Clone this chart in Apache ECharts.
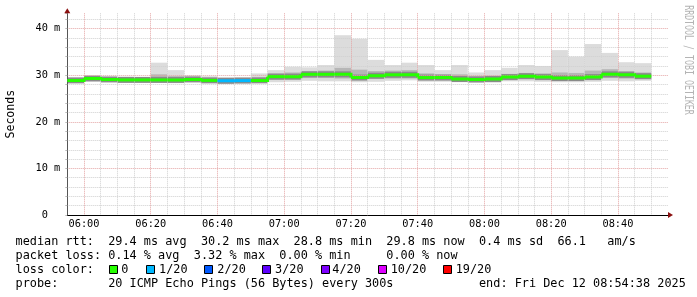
<!DOCTYPE html>
<html><head><meta charset="utf-8">
<script src="https://cdn.jsdelivr.net/npm/echarts@6/dist/echarts.min.js"></script>
<style>html,body{margin:0;padding:0;background:#fff}#c{width:697px;height:297px}</style>
</head><body><div id="c"></div>
<script>
// ---- data ----
const intervalStarts = ['05:55','06:00','06:05','06:10','06:15','06:20','06:25','06:30','06:35','06:40','06:45','06:50',
  '06:55','07:00','07:05','07:10','07:15','07:20','07:25','07:30','07:35','07:40','07:45','07:50',
  '07:55','08:00','08:05','08:10','08:15','08:20','08:25','08:30','08:35','08:40','08:45'];
const medians = [28.9,29.3,29.1,29.0,29.0,29.0,29.0,29.1,28.9,28.8,28.85,28.9,
  29.7,29.7,30.2,30.2,30.2,29.5,29.9,30.1,30.1,29.5,29.5,29.2,
  29.1,29.2,29.6,29.8,29.6,29.4,29.4,29.6,30.2,30.1,29.8];
const maxs = [29.4,29.7,29.5,29.7,29.6,32.7,31.1,30.0,29.8,29.6,29.6,30.4,
  31.1,31.8,31.7,32.2,38.6,37.8,33.3,32.2,32.7,32.2,31.1,32.2,
  30.6,31.1,31.6,32.2,32.0,35.4,34.0,36.7,34.8,32.8,32.6];
const highs = [29.15,29.5,29.3,29.35,29.3,30.2,29.8,29.5,29.3,29.15,29.15,29.5,
  30.4,30.6,30.9,31.0,31.6,31.2,30.9,31.0,31.1,30.4,30.2,30.2,
  29.8,29.9,30.3,30.5,30.4,30.6,30.5,31.0,31.3,30.9,30.6];
const lows = [28.75,29.1,28.9,28.85,28.85,28.7,28.6,28.9,28.7,28.65,28.65,28.7,
  29.0,29.1,29.4,29.4,29.3,29.0,29.2,29.3,29.3,29.0,29.0,28.8,
  28.7,28.8,29.1,29.2,29.1,28.9,28.9,29.0,29.4,29.3,29.2];
const mins = [28.6,28.9,28.7,28.7,28.7,28.4,28.3,28.7,28.6,28.5,28.5,28.6,
  28.5,28.6,28.8,28.7,28.7,28.5,28.6,28.8,28.9,28.6,28.6,28.5,
  28.4,28.4,28.7,28.7,28.6,28.5,28.5,28.6,28.8,28.7,28.8];
const lossCounts = [0,0,0,0,0,0,0,0,0,1,1,0, 0,0,0,0,0,0,0,0,0,0,0,0, 0,0,0,0,0,0,0,0,0,0,0];
const xTickLabels = ['06:00','06:20','06:40','07:00','07:20','07:40','08:00','08:20','08:40'];
const yTickValues = [0,10,20,30,40];
const lossLegendLabels = ['0','1/20','2/20','3/20','4/20','10/20','19/20'];
const lossLegendCounts = [0,1,2,3,4,10,19];

// ---- styles / layout ----
const lossColors = {0:'#26ff00',1:'#00b8ff',2:'#0059ff',3:'#5e00ff',4:'#7e00ff',10:'#dd00ff',19:'#ff0000'};
const MONO = '"DejaVu Sans Mono", monospace';
const STEP = 5;
const X_MIN = 355, X_MAX = 535, Y_MAX = 43.3;
const minorGrid = '#cfcfcf', majorGrid = '#e4a4a4';

function toMin(s){ const p = s.split(':').map(Number); return p[0]*60 + p[1]; }
function fmt(v){ const h = Math.floor(v/60), m = v%60; return String(h).padStart(2,'0')+':'+String(m).padStart(2,'0'); }

const smokeData = intervalStarts.map((t,i)=>[toMin(t), toMin(t)+STEP, mins[i], lows[i], highs[i], maxs[i], medians[i]]);
const medData = intervalStarts.map((t,i)=>[toMin(t), toMin(t)+STEP, medians[i], lossCounts[i],
  i+1 < medians.length ? medians[i+1] : null, i+1 < medians.length ? lossCounts[i+1] : null]);

const chart = echarts.init(document.getElementById('c'), null, {renderer:'canvas'});

const legendFont = '11.85px ' + MONO;
const swatchX = [108.5,146,203.5,262,320.5,378,443];
const labelX = [121.3,159,217.3,275,332.3,390.7,455.7];
const graphics = [
  {type:'text', x:15.5, y:241.5, style:{text:'median rtt:  29.4 ms avg  30.2 ms max  28.8 ms min  29.8 ms now  0.4 ms sd  66.1   am/s', font:legendFont, fill:'#000', align:'left', verticalAlign:'middle'}},
  {type:'text', x:15.5, y:255.5, style:{text:'packet loss: 0.14 % avg  3.32 % max  0.00 % min     0.00 % now', font:legendFont, fill:'#000', align:'left', verticalAlign:'middle'}},
  {type:'text', x:15.5, y:269.5, style:{text:'loss color:', font:legendFont, fill:'#000', align:'left', verticalAlign:'middle'}},
  {type:'text', x:15.5, y:283.5, style:{text:'probe:       20 ICMP Echo Pings (56 Bytes) every 300s            end: Fri Dec 12 08:54:38 2025', font:legendFont, fill:'#000', align:'left', verticalAlign:'middle'}},
  {type:'text', x:688, y:60, rotation:-Math.PI/2, scaleX:0.72, style:{text:'RRDTOOL / TOBI OETIKER', font:'11.5px '+MONO, fill:'#b4b4b4', align:'center', verticalAlign:'middle'}}
];
lossLegendLabels.forEach((lab,i)=>{
  graphics.push({type:'rect', shape:{x:Math.round(swatchX[i])+0.5, y:265.5, width:8, height:8}, style:{fill:lossColors[lossLegendCounts[i]], stroke:'#000', lineWidth:1}});
  graphics.push({type:'text', x:labelX[i], y:269.5, style:{text:lab, font:legendFont, fill:'#000', align:'left', verticalAlign:'middle'}});
});

chart.setOption({
  animation:false,
  backgroundColor:'#fff',
  grid:{left:67.3, right:29, top:13.3, bottom:82, outerBoundsMode:'none'},
  xAxis:{type:'value', min:X_MIN, max:X_MAX, interval:STEP, z:3,
    axisLine:{show:true, onZero:false, lineStyle:{color:'#000', width:1}},
    axisTick:{show:false},
    axisLabel:{margin:4, fontFamily:MONO, fontSize:10.3, color:'#000',
      formatter:v=>{ const s = fmt(v); return xTickLabels.includes(s) ? s : ''; }},
    splitLine:{show:true, showMaxLine:false, lineStyle:{color:[minorGrid, majorGrid, minorGrid, minorGrid], type:[1,1], width:1}}
  },
  yAxis:{type:'value', min:0, max:Y_MAX, interval:2, z:3,
    name:'Seconds', nameLocation:'middle', nameRotate:90, nameGap:50,
    nameTextStyle:{fontFamily:MONO, fontSize:11.6, color:'#000'},
    axisLine:{show:true, lineStyle:{color:'#555', width:1}},
    axisTick:{show:true, length:2, lineStyle:{color:'#bbb'}},
    axisLabel:{margin:7, fontFamily:MONO, fontSize:10.3, color:'#000',
      formatter:v=>{ if(!yTickValues.includes(v)) return ''; return v===0 ? '0  ' : v+' m'; }},
    splitLine:{show:true, showMaxLine:false, lineStyle:{color:[majorGrid, minorGrid, minorGrid, minorGrid, minorGrid], type:[1,1], width:1}}
  },
  graphic:graphics,
  series:[
    {type:'custom', z:1, data:smokeData, encode:{x:[0,1], y:[2,5]},
      renderItem:(params, api)=>{
        const x0 = api.value(0), x1 = api.value(1);
        const a = api.coord([x0, api.value(2)]), b = api.coord([x1, api.value(5)]);
        const c = api.coord([x0, api.value(3)]), d = api.coord([x1, api.value(4)]);
        const m0 = api.coord([x0, api.value(6)]), m1 = api.coord([x1, api.value(6)]);
        return {type:'group', children:[
          {type:'rect', shape:{x:a[0], y:b[1], width:b[0]-a[0], height:a[1]-b[1]}, style:{fill:'#dcdcdc'}},
          {type:'rect', shape:{x:c[0], y:d[1], width:d[0]-c[0], height:c[1]-d[1]}, style:{fill:'#b6b6b6'}},
          {type:'line', shape:{x1:m0[0], y1:m0[1], x2:m1[0], y2:m1[1]}, style:{stroke:'#8a8a8a', lineWidth:6}}
        ]};
      }},
    {type:'custom', z:5, data:medData, encode:{x:[0,1], y:2},
      renderItem:(params, api)=>{
        const x0 = api.value(0), x1 = api.value(1), med = api.value(2), loss = api.value(3);
        const nm = api.value(4), nl = api.value(5);
        const pts = [api.coord([x0, med]), api.coord([x1, med])];
        if (!isNaN(nm) && nm !== null && nl === loss) pts.push(api.coord([x1, nm]));
        return {type:'polyline', shape:{points:pts}, style:{stroke:lossColors[loss], lineWidth:3, fill:null}};
      }},
    {type:'custom', z:6, data:[[X_MAX, 0, 0], [X_MIN, Y_MAX, 1]], encode:{x:0, y:1},
      renderItem:(params, api)=>{
        const p = api.coord([api.value(0), api.value(1)]);
        const up = api.value(2) === 1;
        const pts = up ? [[p[0]-3, p[1]], [p[0]+3, p[1]], [p[0], p[1]-5]]
                       : [[p[0], p[1]-3], [p[0], p[1]+3], [p[0]+5, p[1]]];
        return {type:'polygon', shape:{points:pts}, style:{fill:'#8b1010'}};
      }}
  ]
});
</script></body></html>
